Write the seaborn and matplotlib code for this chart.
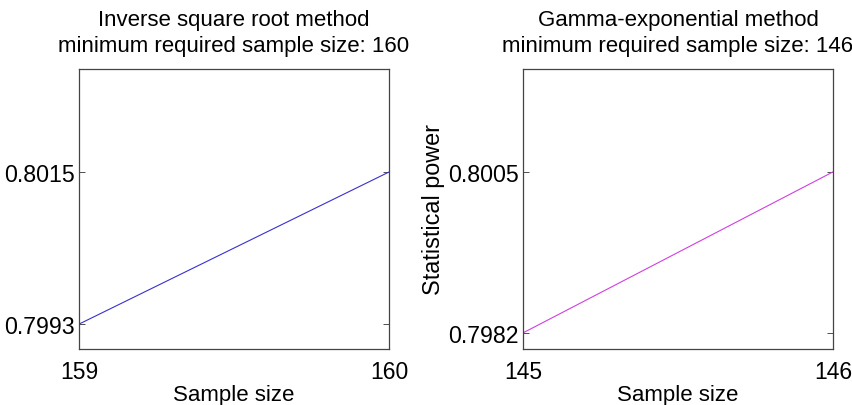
import matplotlib
matplotlib.use("Agg")
import matplotlib.pyplot as plt
import seaborn as sns
import pandas as pd

sns.set_style("white")
plt.rcParams['font.family'] = ['Liberation Sans', 'DejaVu Sans']
plt.rcParams['text.color'] = 'black'
plt.rcParams['axes.labelcolor'] = 'black'
plt.rcParams['xtick.color'] = 'black'
plt.rcParams['ytick.color'] = 'black'

# Data
left_sizes = [159, 160]
left_power = [0.7993, 0.8015]
right_sizes = [145, 146]
right_power = [0.7982, 0.8005]

left_title = "Inverse square root method\nminimum required sample size: 160"
right_title = "Gamma-exponential method\nminimum required sample size: 146"

df_left = pd.DataFrame({"Sample size": left_sizes, "Statistical power": left_power})
df_right = pd.DataFrame({"Sample size": right_sizes, "Statistical power": right_power})

fig = plt.figure(figsize=(8.53, 4.06), dpi=100)
W, H = 853, 406
ax1 = fig.add_axes([79 / W, 1 - 350 / H, 310 / W, 280 / H])
ax2 = fig.add_axes([523 / W, 1 - 350 / H, 310 / W, 280 / H])

def style(ax, df, color, title, ylim, ylabel):
    sns.lineplot(data=df, x="Sample size", y="Statistical power", ax=ax,
                 color=color, linewidth=0.8)
    xs = df["Sample size"].tolist()
    ys = df["Statistical power"].tolist()
    ax.set_xlim(xs[0], xs[-1])
    ax.set_ylim(*ylim)
    ax.set_xticks(xs)
    ax.set_xticklabels([str(v) for v in xs], fontsize=16.5, color="black")
    ax.set_yticks(ys)
    ax.set_yticklabels([f"{v:.4f}" for v in ys], fontsize=16.7, color="black")
    ax.tick_params(direction="in", length=4, width=0.6, color="#333333",
                   left=True, right=True, top=True, bottom=True,
                   labelright=False, labeltop=False, pad=3)
    ax.tick_params(axis="x", pad=8)
    for s in ax.spines.values():
        s.set_visible(True)
        s.set_color("#444444")
        s.set_linewidth(0.9)
    ax.set_xlabel("Sample size", fontsize=16, labelpad=0.5, color="black")
    ax.set_ylabel(ylabel, fontsize=16.8, labelpad=2, color="black")
    ax.set_title(title, fontsize=16, pad=13, linespacing=1.3, color="black")

style(ax1, df_left, "#3a30d0", left_title, (0.79894, 0.80299), "")
style(ax2, df_right, "#d040e0", right_title, (0.79797, 0.80197), "Statistical power")

fig.savefig("out.png", dpi=100, facecolor="white")
